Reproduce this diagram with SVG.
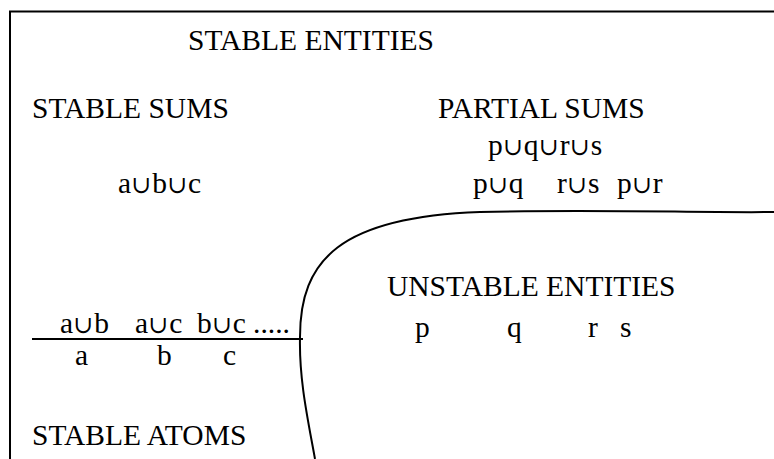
<svg xmlns="http://www.w3.org/2000/svg" width="774" height="459" viewBox="0 0 774 459">
<style>
text{font-family:'Liberation Serif','Times New Roman',Tinos,'DejaVu Serif',serif;font-size:29.5px;fill:#000}
.u{font-family:'DejaVu Serif',serif;font-size:24px;letter-spacing:0.5px}
.ln{fill:none;stroke:#000;stroke-width:2}
</style>
<rect width="774" height="459" fill="#fff"/>
<g id="frame">
<path class="ln" d="M10 459 V11.5 H774"/>
</g>
<g id="connectors">
<path class="ln" d="M32 339 H303"/>
<path class="ln" d="M775 212 C700 213 600 209 480 212 C340 217 300 260 300 337 C299 380 308 420 315 459" stroke-width="1.8"/>
</g>
<g id="stable-entities"><text x="188" y="50">STABLE ENTITIES</text></g>
<g id="stable-sums"><text x="32" y="118">STABLE SUMS</text>
<text x="118" y="193">a<tspan class="u" dx="0.5">∪</tspan>b<tspan class="u" dx="0.5">∪</tspan>c</text></g>
<g id="partial-sums"><text x="438" y="118">PARTIAL SUMS</text>
<text x="488" y="155">p<tspan class="u" dx="0.5">∪</tspan>q<tspan class="u" dx="0.5">∪</tspan>r<tspan class="u" dx="0.5">∪</tspan>s</text>
<text x="473" y="193">p<tspan class="u" dx="0.5">∪</tspan>q</text>
<text x="557" y="193">r<tspan class="u" dx="0.5">∪</tspan>s</text>
<text x="617" y="193">p<tspan class="u" dx="0.5">∪</tspan>r</text></g>
<g id="pairs"><text x="60" y="333">a<tspan class="u" dx="0.5">∪</tspan>b</text>
<text x="135" y="333">a<tspan class="u" dx="0.5">∪</tspan>c</text>
<text x="197" y="333">b<tspan class="u" dx="0.5">∪</tspan>c</text>
<text x="253" y="333">.....</text></g>
<g id="atoms"><text x="75" y="365">a</text>
<text x="157" y="365">b</text>
<text x="223" y="365">c</text>
<text x="32" y="445">STABLE ATOMS</text></g>
<g id="unstable-entities"><text x="387" y="296">UNSTABLE ENTITIES</text>
<text x="415" y="337">p</text>
<text x="507" y="337">q</text>
<text x="588" y="337">r</text>
<text x="620" y="337">s</text></g>
</svg>
